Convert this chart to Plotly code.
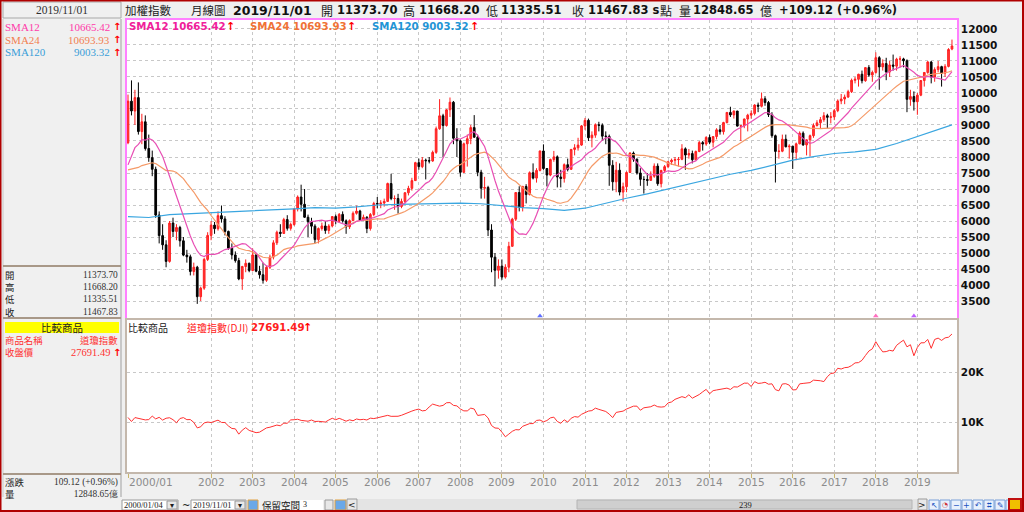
import plotly.graph_objects as go
import pandas as pd

# ---------------- data ----------------
# TAIEX monthly closes 1998/01-1999/12 (used only to seed the moving averages)
pre_close = [7833, 8919, 8843, 8473, 7730, 7549, 7640, 6551, 6834, 7165, 7163, 6418,
             5998, 5964, 6881, 7581, 7316, 8467, 7326, 8157, 7598, 7854, 7720, 8448]

open_ = [
    8448, 9744, 9436, 9855, 8794, 9100, 8265, 7980, 7616, 6185, 5544, 5256,
    4739, 5936, 5674, 5797, 5382, 4935, 4883, 4424, 4557, 3636, 3903, 4800,
    5551, 5872, 5760, 6167, 6065, 5675, 5153, 4940, 4764, 4191, 4579, 4680,
    4452, 4941, 4432, 4321, 4148, 4555, 4872, 5318, 5650, 5611, 6045, 5771,
    5890, 6375, 6750, 6522, 6117, 5977, 5839, 5420, 5765, 5845, 5705, 5844,
    6139, 5994, 6207, 6005, 5819, 6011, 6241, 6311, 6033, 6118, 5764, 6203,
    6548, 6532, 6561, 6613, 7171, 6702, 6704, 6455, 6612, 6883, 7021, 7262,
    7823, 7699, 7901, 7884, 7875, 8145, 8883, 9287, 8982, 9476, 9711, 8586,
    8506, 7521, 8412, 8572, 8919, 8619, 7523, 7024, 7046, 5719, 4870, 4460,
    4591, 4248, 4557, 5210, 6059, 6890, 6432, 7078, 6826, 7509, 7340, 7582,
    8188, 7640, 7436, 7920, 8004, 7374, 7329, 7760, 7616, 8237, 8287, 8372,
    8972, 9145, 8600, 8683, 9007, 8988, 8652, 8644, 7741, 7225, 7587, 6904,
    7072, 7517, 8121, 7933, 7501, 7301, 7296, 7270, 7397, 7715, 7166, 7580,
    7699, 7850, 7897, 7918, 7928, 8254, 8062, 8107, 7914, 8173, 8450, 8406,
    8611, 8462, 8639, 8849, 8791, 9075, 9393, 9315, 9436, 8966, 8974, 9187,
    9307, 9361, 9622, 9586, 9820, 9701, 9323, 8665, 8174, 8181, 8554, 8320,
    8338, 8145, 8411, 8744, 8377, 8535, 8666, 8984, 9068, 9166, 9290, 9240,
    9253, 9447, 9750, 9811, 9872, 10041, 10395, 10427, 10585, 10384, 10793, 10560,
    10642, 11103, 10815, 10919, 10657, 10875, 10837, 11057, 11064, 11006, 9802, 9888,
    9727, 9932, 10389, 10641, 10967, 10498, 10730, 10823, 10618, 10830, 11373.70]

high = [
    9950, 10393, 10100, 10330, 9350, 9300, 8700, 8200, 7700, 6300, 5900, 5400,
    6000, 6104, 5900, 5850, 5500, 5100, 4950, 4700, 4600, 3950, 4850, 5650,
    6000, 5970, 6300, 6484, 6150, 5700, 5300, 5050, 4850, 4600, 4800, 4700,
    5141, 4970, 4600, 4700, 4600, 4950, 5400, 5700, 5900, 6100, 6182, 5950,
    6400, 6800, 7135, 7000, 6200, 6100, 5900, 5800, 5950, 6000, 5900, 6150,
    6200, 6250, 6300, 6050, 6050, 6300, 6480, 6350, 6200, 6150, 6250, 6600,
    6750, 6650, 6700, 7200, 7474, 6800, 6850, 6700, 6900, 7100, 7350, 7850,
    7950, 8000, 7950, 8000, 8200, 8950, 9807, 9350, 9500, 9859, 9750, 8900,
    8550, 8450, 8700, 9000, 9309, 8700, 7600, 7380, 7100, 5900, 5000, 4800,
    4800, 4650, 5350, 6100, 6900, 7085, 7100, 7150, 7550, 7800, 7650, 8200,
    8395, 7650, 7950, 8190, 8050, 7600, 7800, 7950, 8250, 8400, 8600, 9000,
    9220, 9200, 8800, 9050, 9100, 9050, 8800, 8700, 7900, 7850, 7800, 7200,
    7550, 8150, 8170, 7950, 7650, 7400, 7500, 7550, 7800, 7800, 7600, 7750,
    7880, 7950, 8000, 8000, 8400, 8300, 8250, 8200, 8200, 8500, 8500, 8650,
    8700, 8650, 8900, 9000, 9100, 9400, 9570, 9450, 9440, 9000, 9200, 9350,
    9450, 9650, 9700, 10014, 9900, 9750, 9400, 8700, 8400, 8700, 8700, 8400,
    8350, 8450, 8800, 8800, 8550, 8700, 9050, 9150, 9250, 9400, 9350, 9400,
    9500, 9800, 9970, 9950, 10100, 10450, 10500, 10600, 10700, 10800, 10870, 10700,
    11270, 11150, 11050, 11100, 11000, 11200, 11100, 11150, 11100, 11050, 10100, 10050,
    10000, 10400, 10650, 11000, 11000, 10800, 11000, 10850, 10900, 11400, 11668.20]

low = [
    8400, 9300, 9000, 8700, 8400, 8200, 7850, 7400, 6100, 5300, 5100, 4555,
    4700, 5500, 5400, 5200, 4900, 4700, 4300, 4300, 3411, 3500, 3850, 4750,
    5400, 5600, 5700, 5950, 5550, 5100, 4800, 4700, 4150, 3850, 4400, 4400,
    4430, 4400, 4200, 4044, 4100, 4500, 4800, 5250, 5500, 5600, 5700, 5700,
    5850, 6300, 6300, 6100, 5500, 5600, 5300, 5300, 5700, 5600, 5600, 5800,
    5900, 5950, 5950, 5600, 5750, 6000, 6200, 6000, 6000, 5620, 5700, 6150,
    6400, 6400, 6450, 6600, 6650, 6350, 6232, 6400, 6550, 6800, 6950, 7250,
    7600, 7650, 7300, 7800, 7850, 8100, 8850, 7987, 8950, 9250, 8400, 8000,
    7384, 7500, 7700, 8400, 8600, 7400, 6700, 6700, 5530, 4400, 3955, 4200,
    4164, 4200, 4400, 5200, 6000, 6300, 6300, 6550, 6800, 7300, 7200, 7550,
    7600, 7080, 7400, 7850, 7050, 7050, 7200, 7550, 7600, 8050, 8200, 8350,
    8850, 8500, 8300, 8600, 8800, 8500, 8400, 7100, 6950, 6900, 6800, 6609,
    6900, 7500, 7850, 7450, 7100, 6857, 7100, 7250, 7350, 7100, 7050, 7500,
    7650, 7750, 7750, 7700, 7900, 7600, 7950, 7800, 7900, 8150, 8200, 8350,
    8400, 8300, 8550, 8700, 8700, 9050, 9250, 9200, 8950, 8500, 8900, 8800,
    9200, 9300, 9400, 9550, 9600, 9250, 8600, 7203, 7950, 8150, 8300, 7950,
    7627, 7900, 8400, 8350, 8050, 8014, 8600, 8950, 8900, 9100, 8900, 9050,
    9150, 9400, 9650, 9650, 9850, 10000, 10300, 10200, 10300, 10350, 10500, 10350,
    10600, 10100, 10700, 10400, 10500, 10700, 10700, 10800, 10800, 9400, 9600, 9450,
    9319, 9900, 10200, 10600, 10300, 10350, 10650, 10200, 10500, 10800, 11335.51]

close = [
    9744, 9436, 9855, 8794, 9100, 8265, 7980, 7616, 6185, 5544, 5256, 4739,
    5936, 5674, 5797, 5382, 4935, 4883, 4424, 4557, 3636, 3903, 4800, 5551,
    5872, 5760, 6167, 6065, 5675, 5153, 4940, 4764, 4191, 4579, 4680, 4452,
    4941, 4432, 4321, 4148, 4555, 4872, 5318, 5650, 5611, 6045, 5771, 5890,
    6375, 6750, 6522, 6117, 5977, 5839, 5420, 5765, 5845, 5705, 5844, 6139,
    5994, 6207, 6005, 5819, 6011, 6241, 6311, 6033, 6118, 5764, 6203, 6548,
    6532, 6561, 6613, 7171, 6702, 6704, 6455, 6612, 6883, 7021, 7262, 7823,
    7699, 7901, 7884, 7875, 8145, 8883, 9287, 8982, 9476, 9711, 8586, 8506,
    7521, 8412, 8572, 8919, 8619, 7523, 7024, 7046, 5719, 4870, 4460, 4591,
    4248, 4557, 5210, 6059, 6890, 6432, 7078, 6826, 7509, 7340, 7582, 8188,
    7640, 7436, 7920, 8004, 7374, 7329, 7760, 7616, 8237, 8287, 8372, 8972,
    9145, 8600, 8683, 9007, 8988, 8652, 8644, 7741, 7225, 7587, 6904, 7072,
    7517, 8121, 7933, 7501, 7301, 7296, 7270, 7397, 7715, 7166, 7580, 7699,
    7850, 7897, 7918, 7928, 8254, 8062, 8107, 7914, 8173, 8450, 8406, 8611,
    8462, 8639, 8849, 8791, 9075, 9393, 9315, 9436, 8966, 8974, 9187, 9307,
    9361, 9622, 9586, 9820, 9701, 9323, 8665, 8174, 8181, 8554, 8320, 8338,
    8145, 8411, 8744, 8377, 8535, 8666, 8984, 9068, 9166, 9290, 9240, 9253,
    9447, 9750, 9811, 9872, 10041, 10395, 10427, 10585, 10384, 10793, 10560, 10642,
    11103, 10815, 10919, 10657, 10875, 10837, 11057, 11064, 11006, 9802, 9888, 9727,
    9932, 10389, 10641, 10967, 10498, 10730, 10823, 10618, 10830, 11358, 11467.83]

# SMA120 every 6 months
sma120_idx = [0, 6, 12, 18, 24, 30, 36, 42, 48, 54, 60, 66, 72, 78, 84, 90, 96, 102, 108, 114,
              120, 126, 132, 138, 144, 150, 156, 162, 168, 174, 180, 186, 192, 198, 204, 210,
              216, 222, 228, 234, 238]
sma120 = [6135, 6110, 6200, 6230, 6260, 6280, 6300, 6330, 6380, 6420, 6400, 6440, 6500, 6520,
          6530, 6545, 6560, 6540, 6480, 6420, 6390, 6330, 6400, 6560, 6710, 6850, 7000, 7140,
          7290, 7460, 7580, 7750, 7900, 8010, 8110, 8160, 8240, 8420, 8636, 8844, 9003.32]

# Dow Jones (comparison) monthly closes 2000/01 - 2019/11
dji = [
    10941, 10128, 10922, 10734, 10522, 10448, 10522, 11215, 10651, 10971, 10415, 10788,
    10887, 10495, 9879, 10735, 10912, 10502, 10523, 9950, 8848, 9075, 9852, 10022,
    9920, 10106, 10404, 9946, 9925, 9243, 8737, 8664, 7592, 8397, 8896, 8342,
    8054, 7891, 7992, 8480, 8850, 8985, 9234, 9416, 9275, 9801, 9782, 10454,
    10488, 10584, 10358, 10226, 10188, 10435, 10140, 10174, 10080, 10027, 10428, 10783,
    10490, 10766, 10504, 10193, 10467, 10275, 10641, 10482, 10569, 10440, 10806, 10718,
    10865, 10993, 11109, 11367, 11168, 11150, 11186, 11381, 11679, 12081, 12222, 12463,
    12622, 12269, 12354, 13063, 13628, 13409, 13212, 13358, 13896, 13930, 13372, 13265,
    12650, 12266, 12263, 12820, 12638, 11350, 11378, 11544, 10851, 9325, 8829, 8776,
    8001, 7063, 7609, 8168, 8500, 8447, 9172, 9496, 9712, 9713, 10345, 10428,
    10067, 10325, 10857, 11009, 10137, 9774, 10466, 10015, 10788, 11118, 11006, 11578,
    11892, 12226, 12320, 12811, 12570, 12414, 12143, 11614, 10913, 11955, 12046, 12218,
    12633, 12952, 13212, 13214, 12393, 12880, 13009, 13091, 13437, 13096, 13026, 13104,
    13861, 14054, 14579, 14840, 15116, 14910, 15500, 14810, 15130, 15546, 16086, 16577,
    15699, 16322, 16458, 16581, 16717, 16827, 16563, 17098, 17043, 17391, 17828, 17823,
    17165, 18133, 17776, 17841, 18011, 17620, 17690, 16528, 16285, 17664, 17720, 17425,
    16466, 16517, 17685, 17774, 17787, 17930, 18432, 18401, 18308, 18142, 19124, 19763,
    19864, 20812, 20663, 20941, 21009, 21350, 21891, 21948, 22405, 23377, 24272, 24719,
    26149, 25029, 24103, 24163, 24416, 24271, 25415, 25965, 26458, 25116, 25538, 23327,
    24999, 25916, 25929, 26593, 24815, 26600, 26864, 26403, 26917, 27046, 27691.49]

# small event markers along the bottom of the price panel
mark_idx = [119, 216, 227]
mark_col = ["#6070ff", "#ff70c0", "#c060ff"]

year_idx = [0, 24, 36, 48, 60, 72, 84, 96, 108, 120, 132, 144, 156, 168, 180, 192, 204, 216, 228]
year_lbl = ["2000/01", "2002", "2003", "2004", "2005", "2006", "2007", "2008", "2009", "2010",
            "2011", "2012", "2013", "2014", "2015", "2016", "2017", "2018", "2019"]
price_ticks = list(range(3500, 12001, 500))
price_lbl = [str(v) for v in price_ticks]

# ---------------- derived series (the chart's moving averages) ----------------
idx = list(range(len(close)))
all_close = pd.Series(pre_close + close, dtype=float)
n_pre = len(pre_close)
sma12 = all_close.rolling(12).mean().iloc[n_pre:].tolist()
sma24 = all_close.rolling(24).mean().iloc[n_pre:].tolist()

# ---------------- geometry helpers ----------------
W, H = 1024, 512
ML, MR, MT, MB = 127, 67, 20, 40
PW, PH = W - ML - MR, H - MT - MB
XR = [-0.29, 239.45]
YR = [2970, 12280]


def X(px):
    return (px - ML) / PW


def Y(py):
    return (H - MB - py) / PH


SANS = "DejaVu Sans"
CJK = "Noto Sans CJK TC"
SERIF = "Liberation Serif"

fig = go.Figure()
fig.add_trace(go.Candlestick(
    x=idx, open=open_, high=high, low=low, close=close,
    increasing=dict(line=dict(color="#ff1e1e", width=1), fillcolor="#ff3b3b"),
    decreasing=dict(line=dict(color="#000000", width=1), fillcolor="#000000"),
    whiskerwidth=0, xaxis="x", yaxis="y", showlegend=False, hoverinfo="skip"))
fig.add_trace(go.Scatter(x=sma120_idx, y=sma120, mode="lines", line=dict(color="#3aa6e0", width=1.2),
                         xaxis="x", yaxis="y", hoverinfo="skip"))
fig.add_trace(go.Scatter(x=idx, y=sma24, mode="lines", line=dict(color="#f59a68", width=1.2),
                         xaxis="x", yaxis="y", hoverinfo="skip"))
fig.add_trace(go.Scatter(x=idx, y=sma12, mode="lines", line=dict(color="#e84fb4", width=1.2),
                         xaxis="x", yaxis="y", hoverinfo="skip"))
fig.add_trace(go.Scatter(x=mark_idx, y=[YR[0] + 60] * len(mark_idx), mode="markers",
                         marker=dict(symbol="triangle-up", size=5, color=mark_col),
                         xaxis="x", yaxis="y", hoverinfo="skip", cliponaxis=False))
fig.add_trace(go.Scatter(x=idx, y=dji, mode="lines", line=dict(color="#ff3030", width=1),
                         xaxis="x2", yaxis="y2", hoverinfo="skip"))

ann = []


def T(px, py, s, size=11, color="#000000", anchor="left", family=SANS):
    ann.append(dict(x=X(px), y=Y(py), xref="paper", yref="paper", text=s, showarrow=False,
                    xanchor=anchor, yanchor="middle", borderpad=0,
                    align="center" if anchor == "center" else anchor,
                    font=dict(family=family, size=size, color=color)))


shp = []


def R(x0, y0, x1, y1, fill=None, line=None, lw=1, layer="above"):
    shp.append(dict(type="rect", xref="paper", yref="paper", x0=X(x0), x1=X(x1), y0=Y(y1), y1=Y(y0),
                    fillcolor=fill or "rgba(0,0,0,0)",
                    line=dict(color=line or "rgba(0,0,0,0)", width=lw if line else 0), layer=layer))


def L(x0, y0, x1, y1, color, lw=1):
    shp.append(dict(type="line", xref="paper", yref="paper", x0=X(x0), x1=X(x1), y0=Y(y0), y1=Y(y1),
                    line=dict(color=color, width=lw)))


# --- title row ---
T(124, 10, "加權指數", 11.5, "#202020", family=CJK)
T(190, 10, "月線圖", 11.5, "#202020", family=CJK)
T(232, 10, "<b>2019/11/01</b>", 12.5, "#101010")
T(320, 10, "開", 12, "#202020", family=CJK)
T(336, 10, "<b>11373.70</b>", 11.5, "#101010")
T(402, 10, "高", 12, "#202020", family=CJK)
T(418, 10, "<b>11668.20</b>", 11.5, "#101010")
T(485, 10, "低", 12, "#202020", family=CJK)
T(500, 10, "<b>11335.51</b>", 11.5, "#101010")
T(571, 10, "收", 12, "#202020", family=CJK)
T(587, 10, "<b>11467.83 s</b>", 11.5, "#101010")
T(659, 10, "點", 12, "#202020", family=CJK)
T(678, 10, "量", 12, "#202020", family=CJK)
T(692, 10, "<b>12848.65</b>", 11.5, "#101010")
T(759, 10, "億", 12, "#202020", family=CJK)
T(778, 10, "<b>+109.12 (+0.96%)</b>", 11.5, "#101010")

# --- legend inside the main panel ---
T(128, 27, "<b>SMA12 10665.42</b>", 10.2, "#f0209a")
T(225, 27, "<b>↑</b>", 11, "#ff0000")
T(249, 27, "<b>SMA24 10693.93</b>", 10.2, "#f07236")
T(346, 27, "<b>↑</b>", 11, "#ff0000")
T(371, 27, "<b>SMA120 9003.32</b>", 10.2, "#1f95d6")
T(469, 27, "<b>↑</b>", 11, "#ff0000")

# --- comparison panel header ---
T(127, 327, "比較商品", 10, "#202020", family=CJK)
T(186, 327, "道瓊指數(DJI)", 10, "#ff2020", family=CJK)
T(250, 327, "<b>27691.49</b>", 10.2, "#ff2020")
T(302, 327, "<b>↑</b>", 11, "#ff0000")

# --- year labels under the lower panel ---
for i, lab in zip(year_idx, year_lbl):
    ann.append(dict(x=i, xref="x", y=Y(482), yref="paper", text=lab, showarrow=False,
                    xanchor="left" if i == 0 else "center", yanchor="middle", borderpad=0,
                    font=dict(family=SANS, size=10.5, color="#8c8c8c")))

# --- left info panel ---
R(3, 2, 121, 18, fill="#f0f0f0", line="#a8a8a8")
T(62, 10, "2019/11/01", 11.5, "#303030", anchor="center", family=SERIF)
L(121, 19, 121, 497, "#a0a0a0")
L(3, 19, 3, 497, "#c8c8c8")
T(4, 27, "SMA12", 11, "#ff3aa8", family=SERIF)
T(111, 27, "10665.42", 11, "#ff3aa8", anchor="right", family=SERIF)
T(4, 40, "SMA24", 11, "#f28050", family=SERIF)
T(111, 40, "10693.93", 11, "#f28050", anchor="right", family=SERIF)
T(4, 52, "SMA120", 11, "#3a9ed8", family=SERIF)
T(111, 52, "9003.32", 11, "#3a9ed8", anchor="right", family=SERIF)
for yy in (27, 40, 52):
    T(112, yy, "<b>↑</b>", 10, "#ff0000")
L(3, 266, 121, 266, "#a89888", 2)
# OHLC block as one multi-line label column and one value column
T(4, 293, "開<br>高<br>低<br>收", 9.4, "#202020", family=CJK)
T(119, 293, "11373.70<br>11668.20<br>11335.51<br>11467.83", 9.4, "#303030", anchor="right",
  family=SERIF)
L(3, 318, 121, 318, "#a89888", 2)
R(5, 322, 119, 333, fill="#ffff00")
T(62, 327, "比較商品", 10.5, "#202020", anchor="center", family=CJK)
T(4, 346, "商品名稱<br>收盤價", 9.4, "#ff3030", family=CJK)
T(119, 340, "道瓊指數", 9.4, "#ff3030", anchor="right", family=CJK)
T(111, 352, "27691.49", 10.5, "#ff3030", anchor="right", family=SERIF)
T(112, 352, "<b>↑</b>", 10, "#ff0000")
L(3, 474, 121, 474, "#a89888", 2)
T(4, 488, "漲跌<br>量", 9.4, "#202020", family=CJK)
T(119, 488, "109.12 (+0.96%)<br>12848.65億", 9.4, "#303030", anchor="right", family=SERIF)

# --- bottom toolbar ---
R(122, 500, 178, 510, fill="#ffffff", line="#9a9a9a")
T(123, 505, "2000/01/04", 8.5, "#202020", family=SERIF)
R(167, 501, 177, 509, fill="#e8e8e8", line="#9a9a9a")
T(172, 505, "▾", 8, "#202020", anchor="center")
T(186, 505, "~", 10, "#202020", anchor="center")
R(191, 500, 246, 510, fill="#ffffff", line="#9a9a9a")
T(192, 505, "2019/11/01", 8.5, "#202020", family=SERIF)
R(235, 501, 245, 509, fill="#e8e8e8", line="#9a9a9a")
T(240, 505, "▾", 8, "#202020", anchor="center")
R(248, 500, 258, 510, fill="#6aa8e8", line="#e0a040")
T(261, 505, "保留空間", 9.5, "#202020", family=CJK)
R(300, 500, 323, 510, fill="#ffffff")
T(302, 504, "3", 8, "#202020", family=SERIF)
R(325, 500, 333, 510, fill="#e8e8e8", line="#9a9a9a")
R(335, 500, 346, 510, fill="#6aa8e8", line="#e0a040")
R(347, 499, 357, 510, fill="#e8e8e8", line="#9a9a9a")
T(352, 505, "<", 9, "#202020", anchor="center")
R(358, 499, 917, 510, fill="#e4e4e4")
R(577, 500, 912, 509, fill="#cfcfcf", line="#b4b4b4")
T(745, 505, "239", 8.5, "#202020", anchor="center", family=SERIF)
R(918, 499, 927, 510, fill="#e8e8e8", line="#9a9a9a")
T(922, 505, ">", 9, "#202020", anchor="center")
for xx in range(929, 1009, 11):
    R(xx, 500, xx + 10, 510, fill="#e8f0fc", line="#7aa0d8")
T(934, 505, "↖", 8, "#1a50c0", anchor="center")
T(945, 505, "◔", 7, "#d03030", anchor="center")
T(956, 505, "−", 8, "#1a50c0", anchor="center")
T(967, 505, "+", 8, "#1a50c0", anchor="center")
T(978, 505, "↶", 8, "#1a50c0", anchor="center")
T(989, 505, "⌗", 8, "#1a50c0", anchor="center")
T(1000, 505, "✎", 8, "#1a50c0", anchor="center")
R(1009, 499, 1021, 510, fill="#f0c000", line="#c01010", lw=2)

# window frame
R(0.5, 0.5, 1023, 511, line="#b00000", lw=2)

axis_common = dict(showgrid=True, gridcolor="#c8c8c8", griddash="dot", gridwidth=1, zeroline=False,
                   fixedrange=True)
fig.update_layout(
    width=W, height=H, margin=dict(l=ML, r=MR, t=MT, b=MB, pad=0),
    paper_bgcolor="#f0f0f0", plot_bgcolor="#ffffff", showlegend=False,
    xaxis=dict(domain=[0, 1], anchor="y", range=XR, tickmode="array", tickvals=year_idx,
               showticklabels=False, ticks="", showline=True, mirror=True, linecolor="#ff80ff",
               linewidth=1.5, rangeslider=dict(visible=False), **axis_common),
    yaxis=dict(domain=[Y(318), 1], anchor="x", side="right", range=YR, tickmode="array",
               tickvals=price_ticks, ticktext=price_lbl, ticks="", showline=True, mirror=True,
               linecolor="#ff80ff", linewidth=1.5,
               tickfont=dict(family=SANS, size=10.5, color="#111111", weight="bold"),
               **axis_common),
    xaxis2=dict(domain=[0, 1], anchor="y2", matches="x", range=XR, tickmode="array", tickvals=year_idx,
                showticklabels=False, ticks="outside", ticklen=4, tickcolor="#c8b46a", showline=True,
                mirror=True, linecolor="#c4b8ac", linewidth=1.5, **axis_common),
    yaxis2=dict(domain=[0, Y(320)], anchor="x2", side="right", range=[0, 30500], tickmode="array",
                tickvals=[10000, 20000], ticktext=["10K", "20K"], ticks="", showline=True, mirror=True,
                linecolor="#c4b8ac", linewidth=1.5,
                tickfont=dict(family=SANS, size=10.5, color="#111111", weight="bold"), **axis_common),
    annotations=ann, shapes=shp,
)
fig.write_html("out.html", config={"displayModeBar": False},
               post_script="document.body.style.margin='0';document.body.style.overflow='hidden';")
